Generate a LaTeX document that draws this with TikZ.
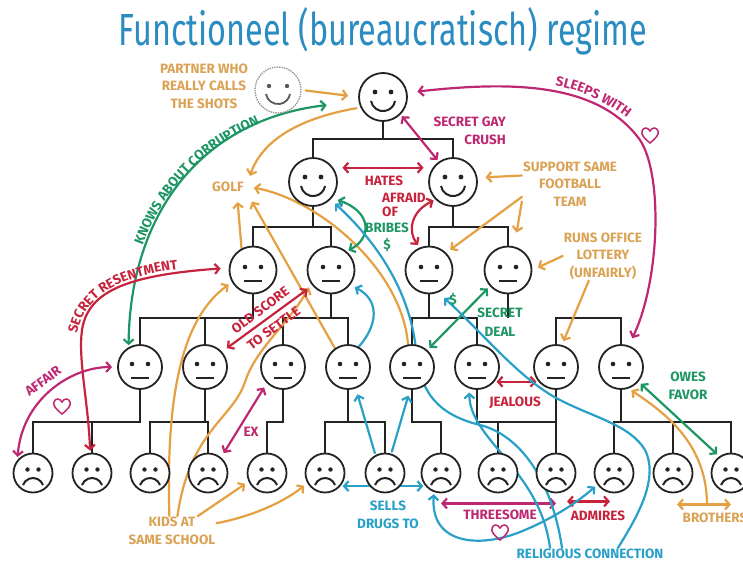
\documentclass[tikz,border=0pt]{standalone}
\usepackage{fontspec}
\setmainfont{Fira Sans}
\usetikzlibrary{arrows.meta,backgrounds,decorations.text}

\definecolor{titleblue}{RGB}{42,140,192}
\definecolor{ink}{RGB}{35,35,35}
\definecolor{orng}{RGB}{228,160,66}
\definecolor{orngtext}{RGB}{218,162,85}
\definecolor{rd}{RGB}{200,35,60}
\definecolor{mag}{RGB}{190,40,115}
\definecolor{grn}{RGB}{30,150,100}
\definecolor{cyn}{RGB}{40,160,200}

\newcommand{\lblfont}{\fontsize{13.5}{17.5}\selectfont\bfseries}

\tikzset{
  face/.style={circle, draw=ink, line width=1.8pt, fill=white, inner sep=0pt},
  happy/.style={face, minimum size=48pt, path picture={
    \fill[ink] ([shift={(-8pt,5pt)}]path picture bounding box.center) circle (2.4pt);
    \fill[ink] ([shift={(8pt,5pt)}]path picture bounding box.center) circle (2.4pt);
    \draw[ink, line width=2pt] ([shift={(-12pt,-4pt)}]path picture bounding box.center) arc[start angle=190, end angle=350, radius=12.2pt];}},
  neutral/.style={face, minimum size=#1, path picture={
    \fill[ink] ([shift={(-8pt,3pt)}]path picture bounding box.center) circle (2.3pt);
    \fill[ink] ([shift={(8pt,3pt)}]path picture bounding box.center) circle (2.3pt);
    \draw[ink, line width=2pt] ([shift={(-9pt,-11pt)}]path picture bounding box.center) -- ++(18pt,0pt);}},
  neutral/.default=44pt,
  sad/.style={face, minimum size=39pt, path picture={
    \fill[ink] ([shift={(-5.5pt,3.5pt)}]path picture bounding box.center) circle (2.2pt);
    \fill[ink] ([shift={(5.5pt,3.5pt)}]path picture bounding box.center) circle (2.2pt);
    \draw[ink, line width=2pt] ([shift={(10pt,-12pt)}]path picture bounding box.center) arc[start angle=20, end angle=160, radius=10.64pt];}},
  partner/.style={circle, draw=gray!80, densely dotted, line width=1.4pt, fill=white, minimum size=46pt, inner sep=0pt, path picture={
    \fill[black!65] ([shift={(-9pt,4pt)}]path picture bounding box.center) circle (2.2pt);
    \fill[black!65] ([shift={(9pt,4pt)}]path picture bounding box.center) circle (2.2pt);
    \draw[black!65, solid, line width=1.8pt] ([shift={(-12pt,-4pt)}]path picture bounding box.center) arc[start angle=190, end angle=350, radius=12.2pt];}},
  orgline/.style={draw=ink, line width=1.6pt},
  oneway/.style={line width=2.2pt, line cap=round, -{Straight Barb[length=4.5pt,width=10pt]}},
  twoway/.style={line width=2.2pt, line cap=round, {Straight Barb[length=4.5pt,width=10pt]}-{Straight Barb[length=4.5pt,width=10pt]}},
  lbl/.style={font=\lblfont, align=center, inner sep=1pt}
}

\begin{document}
\begin{tikzpicture}[x=1pt,y=-1pt]
\useasboundingbox (0,0) rectangle (743,562);

\node[text=titleblue, anchor=base] (title) at (383,45) {\scalebox{0.72}[1]{\fontsize{45}{45}\selectfont Functioneel (bureaucratisch) regime}};

% boss and partner
\node[happy] (r) at (383,97) {};
\node[partner] (p) at (278,90) {};
\node[happy] (a1) at (313,182) {};
\node[happy] (a2) at (453,182) {};
\node[neutral=47pt] (b1) at (253,270) {};
\node[neutral=47pt] (b2) at (331,270) {};
\node[neutral=47pt] (b3) at (429,270) {};
\node[neutral=47pt] (b4) at (508,270) {};
\node[neutral] (c1) at (140,367) {};
\node[neutral] (c2) at (205,367) {};
\node[neutral] (c3) at (283,367) {};
\node[neutral] (c4) at (348,367) {};
\node[neutral] (c5) at (412,367) {};
\node[neutral] (c6) at (477,367) {};
\node[neutral] (c7) at (556,367) {};
\node[neutral] (c8) at (621,367) {};
\node[sad] (d1) at (33,473) {};
\node[sad] (d2) at (92,473) {};
\node[sad] (d3) at (150,473) {};
\node[sad] (d4) at (208,473) {};
\node[sad] (d5) at (267,473) {};
\node[sad] (d6) at (325,473) {};
\node[sad] (d7) at (385,473) {};
\node[sad] (d8) at (441,473) {};
\node[sad] (d9) at (498,473) {};
\node[sad] (d10) at (556,473) {};
\node[sad] (d11) at (614,473) {};
\node[sad] (d12) at (673,473) {};
\node[sad] (d13) at (731,473) {};

\coordinate (bar0) at (0,139);
\coordinate (bar1) at (0,227);
\coordinate (bar2) at (0,318);
\coordinate (bar3) at (0,422);
\coordinate (bro) at (707,503);

% labels
\node[lbl, text=orngtext] (partnerlbl) at (204,86) {PARTNER WHO\\REALLY CALLS\\THE SHOTS};
\node[lbl, text=orngtext, inner sep=6pt] (golf) at (228,187) {GOLF};
\node[lbl, text=rd] (hates) at (384,181) {HATES};
\node[lbl, text=rd, align=left, anchor=west] (afraid) at (381,205) {AFRAID\\[-3pt]OF};
\node[lbl, text=grn] (bribes) at (387,228) {BRIBES};
\node[lbl, text=grn] (bribecash) at (387,245) {\$};
\node[lbl, text=mag, align=right, anchor=east] (crush) at (507,131) {SECRET GAY\\CRUSH};
\node[lbl, text=orngtext] (football) at (570,184) {SUPPORT SAME\\FOOTBALL\\TEAM};
\node[lbl, text=orngtext] (lottery) at (603,256) {RUNS OFFICE\\LOTTERY\\(UNFAIRLY)};
\node[lbl, text=grn] (deal) at (500,322) {SECRET\\[1pt]DEAL};
\node[lbl, text=grn] (dealcash) at (453,300) {\$};
\node[lbl, text=rd] (jealous) at (515,403) {JEALOUS};
\node[lbl, text=grn] (owes) at (688,386) {OWES\\FAVOR};
\node[lbl, text=mag] (ex) at (251,432) {EX};
\node[lbl, text=rd, rotate=37] (oldscore) at (267,319) {OLD SCORE\\[5pt]TO SETTLE};
\node[lbl, text=mag, rotate=36] (affair) at (43,381) {AFFAIR};
\node[lbl, text=orngtext] (kids) at (172,531) {KIDS AT\\SAME SCHOOL};
\node[lbl, text=cyn] (drugs) at (388,515) {SELLS\\DRUGS TO};
\node[lbl, text=mag] (threesome) at (500,515) {THREESOME};
\node[lbl, text=rd] (admires) at (598,516) {ADMIRES};
\node[lbl, text=orngtext] (brothers) at (715,518) {BROTHERS};
\node[lbl, text=cyn] (religion) at (590,554) {RELIGIOUS CONNECTION};

% hearts
\draw[mag, line width=1.5pt, shift={(62,407)}] (0,7) .. controls (-6,2) and (-9,-1) .. (-8,-5) .. controls (-7,-9) and (-2,-9) .. (0,-5) .. controls (2,-9) and (7,-9) .. (8,-5) .. controls (9,-1) and (6,2) .. cycle;
\draw[mag, line width=1.5pt, shift={(500,533)}] (0,7) .. controls (-6,2) and (-9,-1) .. (-8,-5) .. controls (-7,-9) and (-2,-9) .. (0,-5) .. controls (2,-9) and (7,-9) .. (8,-5) .. controls (9,-1) and (6,2) .. cycle;
\draw[mag, line width=1.5pt, shift={(650,136)}] (0,7) .. controls (-6,2) and (-9,-1) .. (-8,-5) .. controls (-7,-9) and (-2,-9) .. (0,-5) .. controls (2,-9) and (7,-9) .. (8,-5) .. controls (9,-1) and (6,2) .. cycle;

% text along the long curves
\path[decorate, decoration={text along path, text align=center, text color=grn, text={|\lblfont|KNOWS ABOUT CORRUPTION}}] (126,349) .. controls (126,212) and (197,116) .. (361,98);
\path[decorate, decoration={text along path, text align=center, text color=rd, text={|\lblfont|SECRET RESENTMENT}}] (75,352) .. controls (76,300) and (110,275) .. (196,267);
\path[decorate, decoration={text along path, text align=center, text color=mag, text={|\lblfont|SLEEPS WITH}}] (530,83) .. controls (575,84) and (615,104) .. (646,135);

\begin{pgfonlayer}{background}
% org chart
\draw[orgline] (r.south) -- (r.south |- bar0);
\draw[orgline] (a1.north) |- (a2.north |- bar0) -- (a2.north);
\draw[orgline] (a1.south) -- (a1.south |- bar1);
\draw[orgline] (b1.north) |- (b2.north |- bar1) -- (b2.north);
\draw[orgline] (a2.south) -- (a2.south |- bar1);
\draw[orgline] (b3.north) |- (b4.north |- bar1) -- (b4.north);
\draw[orgline] (b1.south) -- (b1.south |- bar2) -| (c1.north);
\draw[orgline] (c2.north) -- (c2.north |- bar2);
\draw[orgline] (b2.south) -- (b2.south |- bar2);
\draw[orgline] (c3.north) |- (c4.north |- bar2) -- (c4.north);
\draw[orgline] (b3.south) -- (b3.south |- bar2);
\draw[orgline] (c5.north) |- (c6.north |- bar2) -- (c6.north);
\draw[orgline] (b4.south) -- (b4.south |- bar2);
\draw[orgline] (c7.north) |- (c8.north |- bar2) -- (c8.north);
\draw[orgline] (c1.south) -- (c1.south |- bar3) -| (d1.north);
\draw[orgline] (d2.north) -- (d2.north |- bar3);
\draw[orgline] (c2.south) -- (c2.south |- bar3);
\draw[orgline] (d3.north) |- (d4.north |- bar3) -- (d4.north);
\draw[orgline] (c3.south) -- (c3.south |- bar3) -| (d5.north);
\draw[orgline] (c4.south) -- (c4.south |- bar3);
\draw[orgline] (d6.north) |- (d7.north |- bar3) -- (d7.north);
\draw[orgline] (c5.south) -- (c5.south |- bar3) -| (d8.north);
\draw[orgline] (c6.south) -- (c6.south |- bar3) -| (d10.north);
\draw[orgline] (d9.north) -- (d9.north |- bar3);
\draw[orgline] (c7.south) -- (d10.north);
\draw[orgline] (c8.south) -- (c8.south |- bar3);
\draw[orgline] (d11.north) |- (d13.north |- bar3) -- (d13.north);
\draw[orgline] (d12.north) -- (d12.north |- bar3);

% orange
\draw[oneway, orng, shorten <=4pt, shorten >=10pt] (p.east) -- (r.west);
\draw[oneway, orng, shorten <=4pt] (r.205) .. controls (300,118) and (262,140) .. (golf.north east);
\draw[oneway, orng, shorten >=4pt] (b1.118) -- (golf.-50);
\draw[oneway, orng, shorten >=4pt] (c4.125) -- (golf.south east);
\draw[oneway, orng, shorten >=4pt] (c5.100) .. controls (402,270) and (320,200) .. (golf.east);
\draw[oneway, orng, shorten >=8pt] (football.170) -- (a2.10);
\draw[oneway, orng, shorten >=14pt] (football.200) -- (b4.75);
\draw[oneway, orng, shorten >=5pt] (football.195) -- (b3.45);
\draw[oneway, orng, shorten >=6pt] (lottery.west) -- (b4.east);
\draw[oneway, orng, shorten >=4pt] (lottery.240) -- (c7.75);
\draw[oneway, orng, shorten >=4pt] (kids.100) .. controls (166,400) and (180,320) .. (b1.210);
\draw[oneway, orng, shorten >=4pt] (kids.70) .. controls (190,430) and (232,420) .. (245,382) .. controls (256,348) and (288,325) .. (b2.215);
\draw[oneway, orng, shorten >=4pt] (kids.30) -- (d5.205);
\draw[oneway, orng, shorten >=4pt] (kids.10) .. controls (245,518) and (280,505) .. (d6.210);
\draw[twoway, orng] ([shift={(4pt,-11pt)}]d12.south) -- ([yshift=-11pt]d13.south);
\draw[oneway, orng, shorten >=3pt] (bro) .. controls (706,440) and (660,410) .. (c8.-70);

% green
\draw[twoway, grn, shorten <=2pt, shorten >=32pt] (c1.120) .. controls (130,215) and (200,120) .. (r.190);
\draw[twoway, grn, shorten <=6pt, shorten >=2pt] (a1.-40) .. controls (372,212) and (372,238) .. (b2.50);
\draw[twoway, grn, shorten <=3pt, shorten >=3pt] (b4.222) -- (c5.48);
\draw[twoway, grn, shorten <=3pt, shorten >=3pt] (c8.-40) -- (d13.125);

% red
\draw[twoway, rd, shorten <=9pt, shorten >=9pt] (a1.35) -- (a2.145);
\draw[twoway, rd, shorten <=2pt, shorten >=3pt] (a2.225) .. controls (410,212) and (408,232) .. (b3.112);
\draw[twoway, rd, shorten <=6pt, shorten >=6pt] (b2.220) -- (c2.42);
\draw[twoway, rd, shorten <=2pt, shorten >=8pt] (d2.95) .. controls (88,400) and (78,360) .. (82,330) .. controls (88,290) and (130,275) .. (b1.175);
\draw[twoway, rd, shorten <=2pt, shorten >=2pt] (c6.-40) -- (c7.220);
\draw[twoway, rd] ([shift={(11pt,-8pt)}]d10.south) -- ([shift={(-4pt,-8pt)}]d11.south);

% magenta
\draw[twoway, mag, shorten <=10pt, shorten >=8pt] (r.10) .. controls (520,80) and (600,85) .. (640,140) .. controls (663,175) and (660,280) .. (c8.70);
\draw[twoway, mag, shorten <=2pt, shorten >=2pt] (r.-45) -- (a2.125);
\draw[twoway, mag, shorten <=3pt, shorten >=5pt] (d1.140) .. controls (22,400) and (70,367) .. (c1.180);
\draw[twoway, mag, shorten <=5pt, shorten >=5pt] (c3.225) -- (d4.50);
\draw[twoway, mag] ([yshift=-10pt]d8.south) -- ([yshift=-10pt]d10.south);

% blue
\draw[oneway, cyn, shorten <=2pt, shorten >=6pt] (d7.118) -- (c4.-70);
\draw[oneway, cyn, shorten <=2pt, shorten >=6pt] (d7.72) -- (c5.-95);
\draw[oneway, cyn, shorten >=2pt] (d7.220) -- (d6.-40);
\draw[oneway, cyn, shorten >=2pt] (d7.-40) -- (d8.220);
\draw[oneway, cyn, shorten >=5pt] (c4.62) .. controls (378,325) and (380,300) .. (b2.-38);
\draw[oneway, cyn, shorten >=6pt] ([xshift=-28pt]religion.north) .. controls (552,480) and (520,435) .. (480,425) .. controls (440,415) and (420,395) .. (416,350) .. controls (410,290) and (375,240) .. (a1.-45);
\draw[oneway, cyn, shorten >=8pt] ([xshift=28pt]religion.north) .. controls (635,520) and (660,480) .. (645,450) .. controls (630,425) and (595,418) .. (560,400) .. controls (520,380) and (480,330) .. (b3.-68);
\draw[oneway, cyn, shorten >=4pt] ([xshift=-40pt]religion.north) .. controls (540,470) and (470,440) .. (c6.-110);
\draw[twoway, cyn, shorten <=2pt, shorten >=3pt] (d8.-110) .. controls (430,545) and (480,548) .. (520,532) .. controls (555,518) and (580,500) .. (d11.215);
\end{pgfonlayer}
\end{tikzpicture}
\end{document}
